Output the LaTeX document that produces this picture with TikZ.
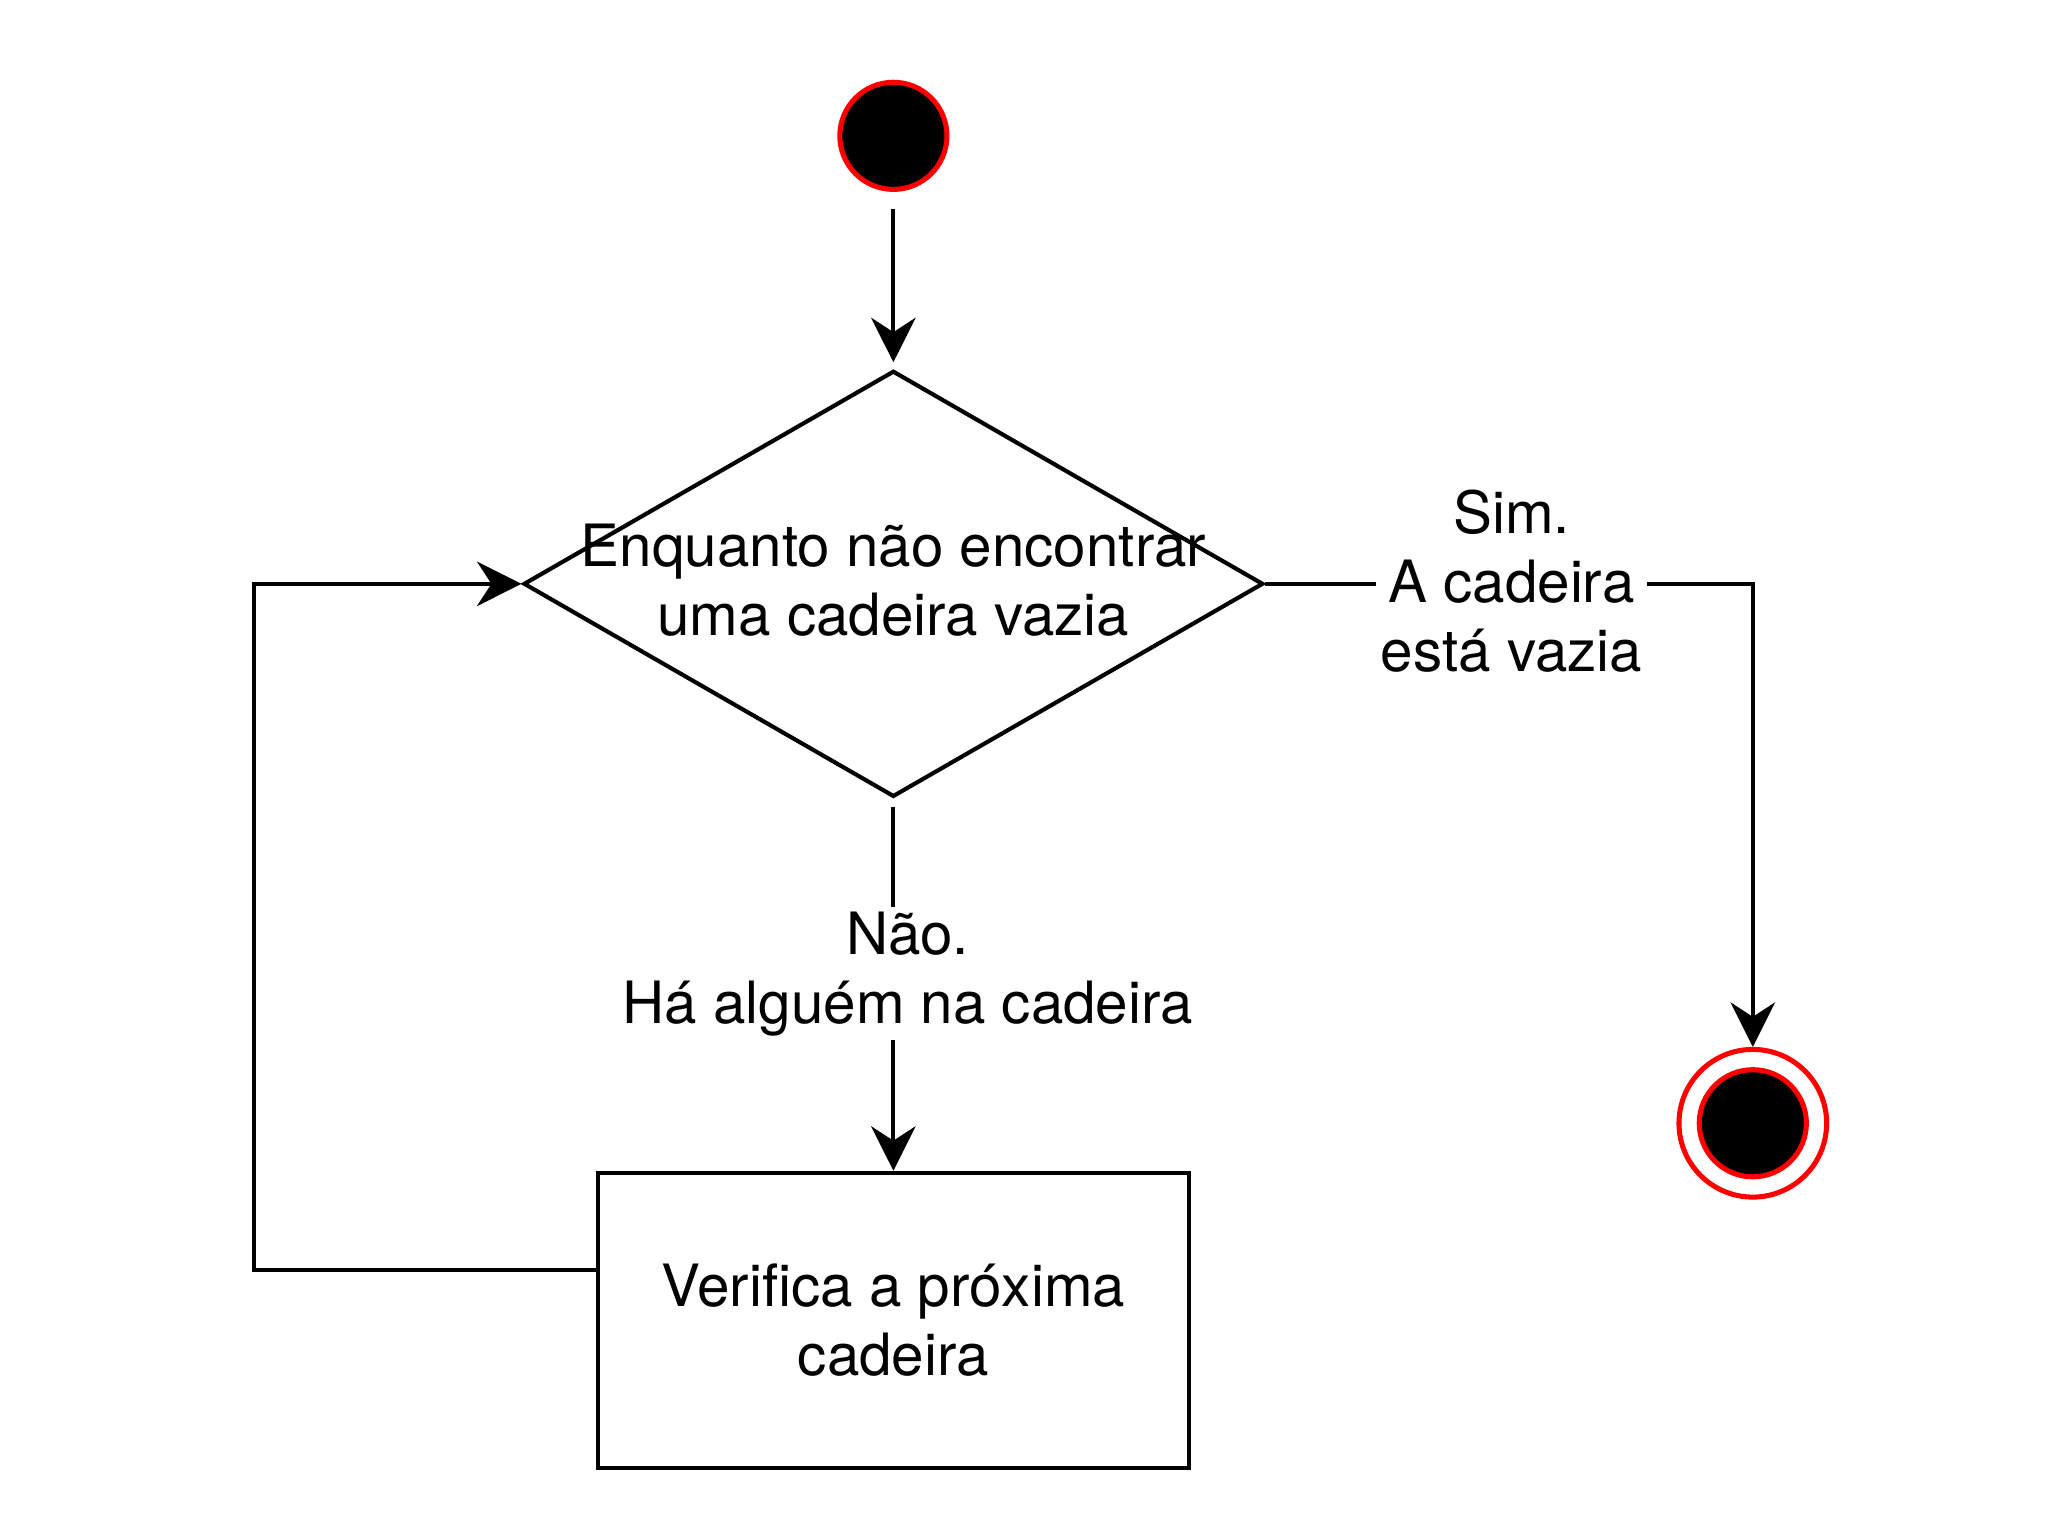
\documentclass[tikz,border=0pt]{standalone}
\usepackage{fontspec}
\setmainfont{TeX Gyre Heros}
\usetikzlibrary{calc,arrows.meta,positioning,shapes.geometric}
\definecolor{redc}{HTML}{FF0000}
\tikzset{
  ar/.style={-{Stealth[length=3.4mm,width=3.4mm,inset=1.1mm]},line width=0.9pt},
  txt/.style={font=\fontsize{12.7}{15}\selectfont,align=center},
  lbl/.style={txt,fill=white,inner sep=1pt},
  startc/.style={circle,draw=redc,fill=black,line width=1.1pt,minimum size=0.82cm,inner sep=0pt},
  ring/.style={circle,draw=redc,line width=1.1pt,minimum size=1.13cm,inner sep=0pt},
  decision/.style={diamond,draw,line width=0.9pt,minimum width=5.66cm,minimum height=3.26cm,inner sep=0pt},
  stepbox/.style={rectangle,draw,line width=0.9pt,minimum width=4.52cm,minimum height=2.26cm,txt}
}

\begin{document}
\begin{tikzpicture}[x=0.01cm,y=-0.01cm]
\useasboundingbox (0,0) rectangle (1568,1176);
\node[startc] (start) at (684,104) {};
\node[decision] (dec) at (684,447) {};
\node[txt] (dectxt) at (684,444) {Enquanto não encontrar\\uma cadeira vazia};
\node[stepbox] (box) at (684,1011) {Verifica a próxima\\cadeira};
\node[ring] (end) at (1342,860) {};
\node[startc] (endin) at (end) {};
\draw[ar,shorten <=0.13cm,shorten >=0.05cm] (start) -- (dec.north);
\draw[ar,shorten <=0.06cm] (dec.south) -- node[lbl,xshift=0.11cm,pos=0.47] {Não.\\Há alguém na cadeira} (box.north);
\draw[ar] (dec.east) -- node[lbl,pos=0.505,yshift=0.02cm] {Sim.\\A cadeira\\está vazia} (dec.east -| end.north) -- (end.north);
\draw[ar] ($(box.north west)!0.33!(box.south west)$) -| ($(dec.west)+(-205,0)$) -- (dec.west);
\end{tikzpicture}
\end{document}
